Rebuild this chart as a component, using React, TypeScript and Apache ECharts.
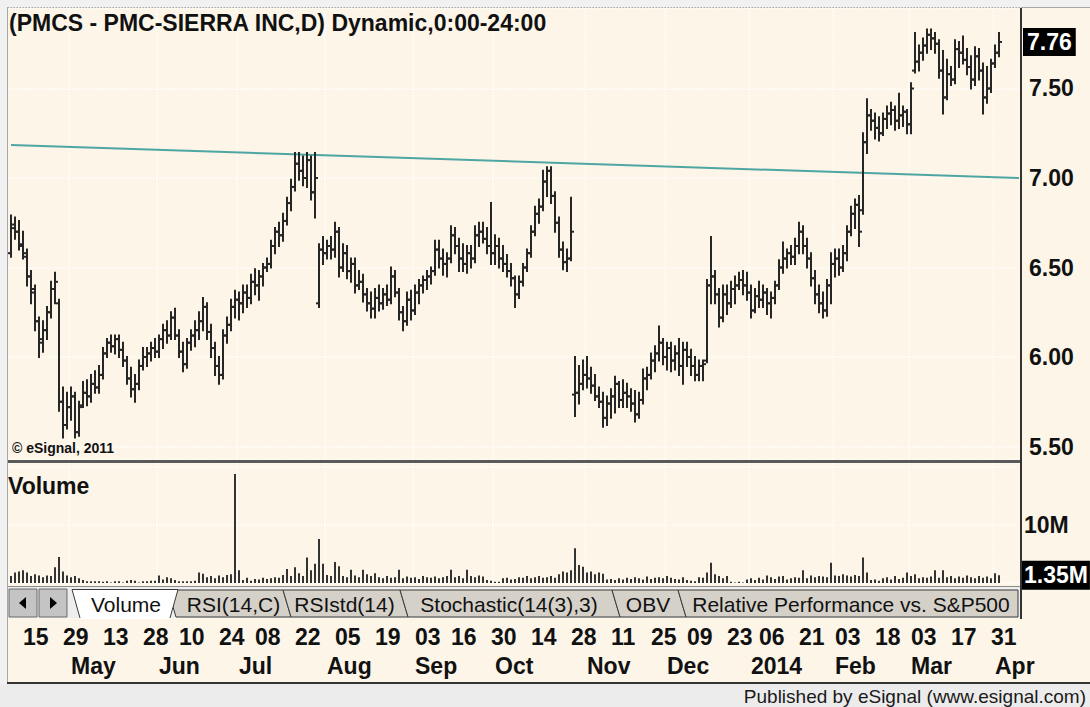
import React, { useEffect, useRef } from "react";
import * as echarts from "echarts";

const FONT = '"Liberation Sans", Arial, sans-serif';
const CREAM = "#fcf5e8";
const INK = "#111111";
const DOTS = "#ffffff";

// ---- calendar (categories) ----
const firstSession = "2013-04-10";
const sessionSlots = 253;
const marketHolidays = [
  "2013-05-27", "2013-07-04", "2013-09-02", "2013-11-28", "2013-12-25",
  "2014-01-01", "2014-01-20", "2014-02-17", "2014-04-18",
];

// ---- tick labels ----
const dayLabelDates = [
  "2013-04-15", "2013-04-29", "2013-05-13", "2013-05-28", "2013-06-10", "2013-06-24",
  "2013-07-08", "2013-07-22", "2013-08-05", "2013-08-19", "2013-09-03", "2013-09-16",
  "2013-09-30", "2013-10-14", "2013-10-28", "2013-11-11", "2013-11-25", "2013-12-09",
  "2013-12-23", "2014-01-06", "2014-01-21", "2014-02-03", "2014-02-18", "2014-03-03",
  "2014-03-17", "2014-03-31",
];
const monthStartDates = [
  "2013-05-01", "2013-06-03", "2013-07-01", "2013-08-01", "2013-09-03", "2013-10-01",
  "2013-11-01", "2013-12-02", "2014-01-02", "2014-02-03", "2014-03-03", "2014-04-01",
];
const monthLabels = ["May", "Jun", "Jul", "Aug", "Sep", "Oct", "Nov", "Dec", "2014", "Feb", "Mar", "Apr"];

// ---- daily bars: [open, high, low, close] ----
const priceBars = [
  [6.58, 6.79, 6.56, 6.74], [6.72, 6.78, 6.66, 6.70], [6.70, 6.76, 6.60, 6.62], [6.63, 6.70, 6.55, 6.58], [6.56, 6.60, 6.40, 6.45],
  [6.45, 6.48, 6.30, 6.38], [6.36, 6.40, 6.15, 6.20], [6.20, 6.22, 6.00, 6.10], [6.08, 6.20, 6.03, 6.15], [6.15, 6.28, 6.10, 6.25],
  [6.25, 6.42, 6.22, 6.38], [6.38, 6.47, 6.30, 6.42], [6.30, 6.32, 5.70, 5.75], [5.75, 5.83, 5.55, 5.62], [5.62, 5.80, 5.60, 5.72],
  [5.72, 5.83, 5.65, 5.78], [5.78, 5.80, 5.55, 5.58], [5.58, 5.75, 5.56, 5.72], [5.73, 5.86, 5.72, 5.80], [5.80, 5.87, 5.73, 5.78],
  [5.78, 5.90, 5.75, 5.85], [5.85, 5.92, 5.80, 5.83], [5.83, 5.95, 5.80, 5.90], [5.90, 6.05, 5.88, 6.02], [6.02, 6.10, 6.00, 6.08],
  [6.08, 6.12, 6.03, 6.06], [6.06, 6.12, 6.02, 6.10], [6.10, 6.12, 6.00, 6.04], [6.04, 6.08, 5.95, 5.98], [5.98, 6.00, 5.85, 5.88],
  [5.88, 5.94, 5.78, 5.82], [5.82, 5.90, 5.75, 5.85], [5.85, 5.98, 5.82, 5.95], [5.95, 6.05, 5.93, 6.00], [6.00, 6.05, 5.95, 6.02],
  [6.02, 6.08, 5.98, 6.05], [6.05, 6.10, 6.00, 6.03], [6.03, 6.12, 6.00, 6.10], [6.10, 6.18, 6.05, 6.15], [6.15, 6.20, 6.08, 6.12],
  [6.12, 6.25, 6.10, 6.22], [6.22, 6.27, 6.10, 6.12], [6.12, 6.15, 6.00, 6.03], [6.03, 6.08, 5.92, 5.96], [5.96, 6.10, 5.94, 6.08],
  [6.08, 6.15, 6.04, 6.12], [6.12, 6.20, 6.06, 6.15], [6.15, 6.25, 6.10, 6.20], [6.20, 6.33, 6.15, 6.28], [6.28, 6.30, 6.10, 6.14],
  [6.14, 6.18, 6.00, 6.05], [6.05, 6.08, 5.90, 5.95], [5.95, 6.00, 5.85, 5.90], [5.90, 6.15, 5.88, 6.12], [6.12, 6.22, 6.08, 6.18],
  [6.18, 6.32, 6.15, 6.28], [6.28, 6.37, 6.22, 6.32], [6.32, 6.36, 6.21, 6.30], [6.30, 6.40, 6.25, 6.36], [6.36, 6.40, 6.28, 6.33],
  [6.33, 6.46, 6.30, 6.42], [6.42, 6.49, 6.35, 6.40], [6.40, 6.48, 6.32, 6.45], [6.45, 6.52, 6.40, 6.50], [6.50, 6.55, 6.48, 6.52],
  [6.52, 6.65, 6.50, 6.62], [6.62, 6.72, 6.58, 6.70], [6.70, 6.75, 6.62, 6.68], [6.68, 6.80, 6.65, 6.76], [6.76, 6.89, 6.74, 6.86],
  [6.86, 6.99, 6.82, 6.95], [6.95, 7.14, 6.93, 7.08], [7.08, 7.14, 6.99, 7.04], [7.04, 7.12, 6.96, 7.00], [7.00, 7.14, 6.95, 7.10],
  [7.10, 7.12, 6.88, 6.92], [6.92, 7.14, 6.78, 7.00], [6.30, 6.63, 6.28, 6.60], [6.60, 6.67, 6.52, 6.58], [6.58, 6.65, 6.55, 6.62],
  [6.62, 6.67, 6.55, 6.60], [6.60, 6.75, 6.56, 6.70], [6.70, 6.72, 6.45, 6.50], [6.50, 6.63, 6.48, 6.58], [6.58, 6.62, 6.44, 6.48],
  [6.48, 6.55, 6.42, 6.52], [6.52, 6.55, 6.36, 6.40], [6.40, 6.48, 6.38, 6.42], [6.42, 6.46, 6.31, 6.35], [6.35, 6.38, 6.26, 6.30],
  [6.30, 6.36, 6.22, 6.27], [6.27, 6.38, 6.22, 6.33], [6.33, 6.40, 6.26, 6.30], [6.30, 6.38, 6.27, 6.35], [6.35, 6.40, 6.29, 6.32],
  [6.32, 6.50, 6.30, 6.45], [6.45, 6.48, 6.34, 6.36], [6.36, 6.38, 6.21, 6.25], [6.25, 6.28, 6.15, 6.20], [6.20, 6.36, 6.18, 6.32],
  [6.32, 6.37, 6.21, 6.26], [6.26, 6.40, 6.24, 6.36], [6.36, 6.43, 6.30, 6.40], [6.40, 6.45, 6.36, 6.43], [6.43, 6.48, 6.38, 6.45],
  [6.45, 6.50, 6.41, 6.48], [6.48, 6.65, 6.46, 6.60], [6.60, 6.65, 6.50, 6.55], [6.55, 6.60, 6.46, 6.52], [6.52, 6.58, 6.45, 6.55],
  [6.55, 6.73, 6.53, 6.68], [6.68, 6.72, 6.58, 6.62], [6.62, 6.66, 6.48, 6.55], [6.55, 6.63, 6.48, 6.52], [6.52, 6.62, 6.47, 6.58],
  [6.58, 6.62, 6.50, 6.55], [6.55, 6.73, 6.53, 6.68], [6.68, 6.75, 6.62, 6.70], [6.70, 6.75, 6.64, 6.66], [6.66, 6.72, 6.58, 6.62],
  [6.62, 6.86, 6.52, 6.58], [6.58, 6.68, 6.52, 6.62], [6.62, 6.66, 6.50, 6.55], [6.55, 6.62, 6.48, 6.52], [6.52, 6.57, 6.45, 6.48],
  [6.48, 6.52, 6.40, 6.44], [6.44, 6.45, 6.28, 6.35], [6.35, 6.45, 6.33, 6.42], [6.42, 6.52, 6.40, 6.50], [6.50, 6.60, 6.48, 6.58],
  [6.58, 6.73, 6.56, 6.70], [6.70, 6.84, 6.68, 6.80], [6.80, 6.88, 6.75, 6.84], [6.84, 7.04, 6.82, 6.98], [6.98, 7.06, 6.90, 7.04],
  [7.04, 7.06, 6.86, 6.90], [6.90, 6.92, 6.70, 6.75], [6.75, 6.78, 6.56, 6.60], [6.60, 6.64, 6.49, 6.53], [6.53, 6.60, 6.48, 6.55],
  [6.55, 6.89, 6.54, 6.70], [5.79, 6.00, 5.67, 5.80], [5.80, 5.95, 5.74, 5.85], [5.85, 5.98, 5.82, 5.90], [5.90, 6.00, 5.83, 5.88],
  [5.88, 5.94, 5.80, 5.84], [5.84, 5.90, 5.76, 5.78], [5.78, 5.83, 5.72, 5.75], [5.75, 5.80, 5.61, 5.66], [5.66, 5.78, 5.62, 5.74],
  [5.74, 5.82, 5.66, 5.78], [5.78, 5.89, 5.69, 5.85], [5.85, 5.86, 5.72, 5.76], [5.76, 5.87, 5.72, 5.80], [5.80, 5.85, 5.72, 5.78],
  [5.78, 5.82, 5.70, 5.74], [5.74, 5.81, 5.64, 5.68], [5.68, 5.80, 5.66, 5.76], [5.76, 5.93, 5.74, 5.88], [5.88, 5.94, 5.82, 5.90],
  [5.90, 6.02, 5.88, 5.98], [5.98, 6.06, 5.92, 6.02], [6.02, 6.17, 5.98, 6.08], [6.08, 6.10, 5.96, 6.00], [6.00, 6.08, 5.93, 6.05],
  [6.05, 6.08, 5.92, 5.98], [5.98, 6.06, 5.93, 6.02], [6.02, 6.10, 5.90, 5.95], [5.95, 6.08, 5.85, 6.04], [6.04, 6.08, 5.95, 6.00],
  [6.00, 6.04, 5.90, 5.95], [5.95, 6.00, 5.87, 5.90], [5.90, 5.98, 5.87, 5.95], [5.95, 5.98, 5.87, 5.96], [5.98, 6.43, 5.97, 6.40],
  [6.40, 6.67, 6.30, 6.45], [6.45, 6.48, 6.30, 6.35], [6.35, 6.38, 6.17, 6.22], [6.22, 6.40, 6.20, 6.35], [6.35, 6.40, 6.24, 6.30],
  [6.30, 6.42, 6.28, 6.38], [6.38, 6.45, 6.30, 6.40], [6.40, 6.47, 6.38, 6.43], [6.43, 6.48, 6.35, 6.40], [6.40, 6.47, 6.32, 6.36],
  [6.36, 6.40, 6.22, 6.26], [6.26, 6.38, 6.25, 6.34], [6.34, 6.42, 6.28, 6.32], [6.32, 6.40, 6.28, 6.36], [6.36, 6.38, 6.24, 6.30],
  [6.30, 6.36, 6.22, 6.33], [6.33, 6.42, 6.30, 6.40], [6.40, 6.54, 6.38, 6.50], [6.50, 6.64, 6.47, 6.55], [6.55, 6.60, 6.50, 6.58],
  [6.58, 6.62, 6.52, 6.56], [6.56, 6.66, 6.52, 6.62], [6.62, 6.75, 6.58, 6.70], [6.70, 6.73, 6.58, 6.62], [6.62, 6.66, 6.50, 6.55],
  [6.55, 6.58, 6.40, 6.44], [6.44, 6.48, 6.30, 6.35], [6.35, 6.40, 6.25, 6.30], [6.30, 6.36, 6.22, 6.26], [6.26, 6.43, 6.23, 6.40],
  [6.40, 6.58, 6.30, 6.52], [6.52, 6.60, 6.45, 6.55], [6.55, 6.60, 6.46, 6.50], [6.50, 6.62, 6.48, 6.58], [6.58, 6.73, 6.54, 6.70],
  [6.70, 6.84, 6.68, 6.80], [6.80, 6.88, 6.72, 6.85], [6.85, 6.90, 6.62, 6.70], [6.82, 7.25, 6.80, 7.20], [7.20, 7.44, 7.14, 7.35],
  [7.35, 7.38, 7.27, 7.32], [7.32, 7.36, 7.22, 7.28], [7.28, 7.34, 7.21, 7.25], [7.25, 7.36, 7.24, 7.33], [7.33, 7.40, 7.28, 7.36],
  [7.36, 7.42, 7.30, 7.38], [7.38, 7.40, 7.27, 7.32], [7.32, 7.47, 7.28, 7.35], [7.35, 7.40, 7.29, 7.37], [7.37, 7.38, 7.25, 7.30],
  [7.30, 7.53, 7.25, 7.50], [7.60, 7.81, 7.59, 7.65], [7.65, 7.74, 7.60, 7.70], [7.70, 7.78, 7.66, 7.74], [7.74, 7.83, 7.70, 7.80],
  [7.80, 7.83, 7.72, 7.78], [7.78, 7.81, 7.70, 7.75], [7.75, 7.77, 7.56, 7.60], [7.60, 7.71, 7.36, 7.45], [7.45, 7.66, 7.44, 7.58],
  [7.58, 7.62, 7.52, 7.55], [7.55, 7.77, 7.53, 7.72], [7.72, 7.76, 7.62, 7.70], [7.70, 7.79, 7.64, 7.66], [7.66, 7.72, 7.58, 7.62],
  [7.62, 7.68, 7.50, 7.55], [7.55, 7.73, 7.52, 7.68], [7.68, 7.72, 7.55, 7.60], [7.60, 7.64, 7.36, 7.45], [7.45, 7.62, 7.42, 7.50],
  [7.50, 7.66, 7.48, 7.64], [7.64, 7.74, 7.62, 7.70], [7.70, 7.81, 7.68, 7.76],
];

// ---- daily volume, millions ----
const volumesM = [
  1.2, 1.8, 2.0, 2.2, 1.8, 1.2, 1.5, 1.3, 1.0, 1.3,
  1.2, 2.7, 4.5, 2.0, 1.3, 1.0, 1.2, 0.8, 0.5, 0.3,
  0.3, 0.3, 0.3, 0.2, 0.3, 0.1, 0.3, 0.3, 0.1, 0.4,
  0.5, 0.4, 0.1, 0.3, 0.3, 0.4, 0.4, 1.3, 0.6, 1.0,
  0.8, 0.5, 0.3, 0.3, 0.3, 0.3, 0.4, 1.8, 1.6, 1.0,
  1.2, 0.8, 1.3, 1.0, 1.4, 1.5, 18.8, 2.2, 0.5, 0.9,
  0.4, 0.7, 0.6, 0.9, 0.7, 0.8, 1.0, 0.9, 1.4, 2.4,
  1.2, 2.7, 1.7, 1.2, 4.4, 2.2, 3.3, 7.6, 3.3, 1.4,
  1.2, 3.6, 2.9, 1.2, 1.0, 2.3, 1.3, 1.0, 2.3, 1.5,
  1.2, 1.7, 1.0, 0.8, 1.2, 0.9, 1.0, 2.3, 0.8, 1.1,
  0.9, 1.0, 0.7, 1.2, 1.0, 0.9, 1.1, 0.8, 1.0, 1.2,
  2.3, 1.0, 1.2, 0.8, 2.3, 1.2, 1.0, 1.3, 1.1, 0.5,
  0.4, 0.2, 0.2, 0.8, 0.9, 0.6, 0.7, 1.0, 0.9, 1.2,
  0.8, 1.0, 1.2, 0.9, 1.0, 1.2, 0.9, 1.5, 2.0, 1.8,
  2.2, 6.0, 3.1, 2.8, 1.8, 2.0, 1.5, 1.8, 1.6, 0.6,
  0.7, 0.5, 0.8, 0.6, 0.9, 0.7, 1.0, 0.8, 0.6, 1.1,
  0.7, 0.9, 1.0, 0.8, 1.2, 0.9, 0.7, 0.6, 1.0, 0.5,
  0.4, 0.3, 1.0, 0.9, 1.8, 3.5, 1.5, 1.2, 0.8, 1.2,
  0.2, 0.1, 0.2, 0.1, 0.6, 0.8, 0.5, 0.9, 0.6, 1.3,
  1.0, 0.7, 1.1, 1.2, 0.6, 0.8, 1.0, 0.9, 2.2, 0.8,
  1.3, 1.0, 1.2, 1.1, 1.0, 3.5, 1.3, 1.2, 1.5, 1.3,
  1.1, 1.4, 1.2, 4.4, 1.8, 0.5, 0.6, 0.4, 0.8, 1.0,
  0.6, 1.2, 0.7, 0.9, 1.8, 1.2, 1.5, 0.8, 1.0, 0.9,
  1.1, 2.2, 0.9, 2.2, 1.0, 1.2, 0.8, 1.1, 0.9, 1.3,
  1.0, 0.8, 1.2, 0.9, 1.1, 0.8, 1.7, 1.35,
];

// ---- study line (start, end) and axis ranges ----
const trendLine = [7.184, 7.0];
const priceRange = [5.4246, 7.9497];
const volumeRange = [0, 20.69];

const tabNames = ["Volume", "RSI(14,C)", "RSIstd(14)", "Stochastic(14(3),3)", "OBV", "Relative Performance vs. S&P500"];
const tabEdges = [72, 178, 283, 400, 612, 678, 1018];

function buildSessions(): string[] {
  const out: string[] = [];
  const [y, m, d] = firstSession.split("-").map(Number);
  const cur = new Date(Date.UTC(y, m - 1, d));
  while (out.length < sessionSlots) {
    const dow = cur.getUTCDay();
    const s = cur.toISOString().slice(0, 10);
    if (dow !== 0 && dow !== 6 && !marketHolidays.includes(s)) out.push(s);
    cur.setUTCDate(cur.getUTCDate() + 1);
  }
  return out;
}

export default function App() {
  const ref = useRef<HTMLDivElement>(null);

  useEffect(() => {
    document.body.style.margin = "0";
    const chart = echarts.init(ref.current as HTMLDivElement, null, { renderer: "svg" });
    const sessions = buildSessions();
    const ohlcData = priceBars.map((b, i) => [i, b[0], b[1], b[2], b[3]]);
    const lastClose = priceBars[priceBars.length - 1][3];
    const lastVol = volumesM[volumesM.length - 1];
    const isMonthStart = (_i: number, v: string) => monthStartDates.includes(v);
    const isDayLabel = (_i: number, v: string) => dayLabelDates.includes(v);

    const labelBase = { fontFamily: FONT, fontSize: 23, fontWeight: "bold", color: INK };
    const hiddenLine = { color: "rgba(0,0,0,0)", width: 0 };

    const graphics: any[] = [];
    // frame strips
    graphics.push({ type: "rect", shape: { x: 0, y: 0, width: 1090, height: 7 }, style: { fill: "#f1f1f1" }, silent: true });
    graphics.push({ type: "rect", shape: { x: 0, y: 0, width: 7, height: 684 }, style: { fill: "#f1f1f1" }, silent: true });
    graphics.push({ type: "line", shape: { x1: 7, y1: 7.5, x2: 1090, y2: 7.5 }, style: { stroke: "#a8a8a8", lineWidth: 1 }, silent: true });
    graphics.push({ type: "line", shape: { x1: 7.5, y1: 7, x2: 7.5, y2: 684 }, style: { stroke: "#a8a8a8", lineWidth: 1 }, silent: true });
    // panel separator
    graphics.push({ type: "rect", shape: { x: 8, y: 460, width: 1013, height: 3 }, style: { fill: "#5a5a5a" }, silent: true, z: 5 });
    // bottom of volume panel
    graphics.push({ type: "line", shape: { x1: 8, y1: 586.5, x2: 1021, y2: 586.5 }, style: { stroke: "#8a8a8a", lineWidth: 1 }, silent: true });
    // tab row background
    graphics.push({ type: "rect", shape: { x: 8, y: 587, width: 1013, height: 31 }, style: { fill: "#eeeeee" }, silent: true });
    // scroll buttons
    graphics.push({ type: "rect", shape: { x: 9, y: 589, width: 28, height: 28 }, style: { fill: "#c4c4c4", stroke: "#6a6a6a", lineWidth: 1 }, silent: true });
    graphics.push({ type: "rect", shape: { x: 39, y: 589, width: 28, height: 28 }, style: { fill: "#c4c4c4", stroke: "#6a6a6a", lineWidth: 1 }, silent: true });
    graphics.push({ type: "polygon", shape: { points: [[19, 603], [26, 597], [26, 609]] }, style: { fill: "#000" }, silent: true });
    graphics.push({ type: "polygon", shape: { points: [[50, 597], [57, 603], [50, 609]] }, style: { fill: "#000" }, silent: true });
    // inactive tabs
    for (let j = 1; j < tabNames.length; j++) {
      const L = j === 1 ? 168 : tabEdges[j];
      const R = tabEdges[j + 1];
      const last = j === tabNames.length - 1;
      graphics.push({
        type: "polygon",
        shape: { points: [[L, 590], [R, 590], [last ? R : R + 8, 617], [L + 8, 617]] },
        style: { fill: "#d5d1c9", stroke: "#3a3a3a", lineWidth: 1 },
        silent: true,
      });
      graphics.push({
        type: "text",
        style: { text: tabNames[j], x: (tabEdges[j] + R) / 2 + 3, y: 604, fill: INK, font: `21px ${FONT}`, textAlign: "center", textVerticalAlign: "middle" },
        silent: true,
      });
    }
    // active tab
    graphics.push({ type: "polygon", shape: { points: [[72, 589], [178, 589], [170, 619], [80, 619]] }, style: { fill: "#ffffff" }, silent: true });
    graphics.push({ type: "polyline", shape: { points: [[80, 618], [72, 589.5], [178, 589.5], [170, 618]] }, style: { stroke: "#3a3a3a", lineWidth: 1, fill: "none" }, silent: true });
    graphics.push({
      type: "text",
      style: { text: tabNames[0], x: 126, y: 604, fill: INK, font: `21px ${FONT}`, textAlign: "center", textVerticalAlign: "middle" },
      silent: true,
    });
    // right axis line
    graphics.push({ type: "line", shape: { x1: 1021, y1: 8, x2: 1021, y2: 619 }, style: { stroke: "#333333", lineWidth: 2 }, silent: true, z: 6 });
    // bottom rule + footer
    graphics.push({ type: "rect", shape: { x: 7, y: 682, width: 1083, height: 2 }, style: { fill: "#333333" }, silent: true });
    graphics.push({ type: "rect", shape: { x: 0, y: 684, width: 1090, height: 23 }, style: { fill: "#ececec" }, silent: true });
    graphics.push({
      type: "text",
      style: { text: "Published by eSignal (www.esignal.com)", x: 1086, y: 696, fill: "#1a1a1a", font: `19px ${FONT}`, textAlign: "right", textVerticalAlign: "middle" },
      silent: true,
    });
    // titles
    graphics.push({
      type: "text", z: 100,
      style: { text: "(PMCS - PMC-SIERRA INC,D) Dynamic,0:00-24:00", x: 9, y: 23, fill: INK, font: `bold 23px ${FONT}`, textAlign: "left", textVerticalAlign: "middle" },
      silent: true,
    });
    graphics.push({
      type: "text", z: 100,
      style: { text: "Volume", x: 8, y: 486, fill: INK, font: `bold 23px ${FONT}`, textAlign: "left", textVerticalAlign: "middle" },
      silent: true,
    });
    graphics.push({
      type: "text", z: 100,
      style: { text: "© eSignal, 2011", x: 12, y: 448, fill: INK, font: `bold 14px ${FONT}`, textAlign: "left", textVerticalAlign: "middle" },
      silent: true,
    });

    const option: any = {
      animation: false,
      backgroundColor: CREAM,
      graphic: graphics,
      grid: [
        { left: 9, top: 8, width: 1012, height: 452 },
        { left: 9, top: 463, width: 1012, height: 120 },
      ],
      xAxis: [
        {
          type: "category", gridIndex: 0, data: sessions, boundaryGap: true,
          axisLine: { show: false }, axisTick: { show: false }, axisLabel: { show: false },
          splitLine: { show: true, interval: isMonthStart, lineStyle: { color: DOTS, type: "dotted", width: 1.5 } },
        },
        {
          type: "category", gridIndex: 1, data: sessions, boundaryGap: true, position: "bottom",
          axisLine: { show: false }, axisTick: { show: false },
          axisLabel: { ...labelBase, interval: isDayLabel, formatter: (v: string) => v.slice(8), align: "left", margin: 42 },
          splitLine: { show: true, interval: isMonthStart, lineStyle: { color: DOTS, type: "dotted", width: 1.5 } },
        },
        {
          type: "category", gridIndex: 1, data: sessions, boundaryGap: true, position: "bottom", offset: 0,
          axisLine: { show: false }, axisTick: { show: false },
          axisLabel: {
            ...labelBase, interval: isMonthStart, align: "left", margin: 71,
            formatter: (v: string) => monthLabels[monthStartDates.indexOf(v)] || "",
          },
          splitLine: { show: false },
        },
      ],
      yAxis: [
        {
          type: "value", gridIndex: 0, position: "right", min: priceRange[0], max: priceRange[1], splitNumber: 5,
          axisLine: { show: false }, axisTick: { show: false },
          axisLabel: { ...labelBase, margin: 8, showMinLabel: false, showMaxLabel: false, formatter: (v: number) => v.toFixed(2) },
          splitLine: { show: true, lineStyle: { color: DOTS, type: "dotted", width: 1.5 } },
        },
        {
          type: "value", gridIndex: 1, position: "right", min: volumeRange[0], max: volumeRange[1], interval: 10,
          axisLine: { show: false }, axisTick: { show: false },
          axisLabel: { ...labelBase, margin: 3, formatter: (v: number) => (v === 10 ? "10M" : "") },
          splitLine: { show: true, lineStyle: { color: DOTS, type: "dotted", width: 1.5 } },
        },
      ],
      series: [
        {
          type: "line", name: "study", xAxisIndex: 0, yAxisIndex: 0, z: 1, clip: false,
          data: [[0, trendLine[0]], [sessionSlots - 1, trendLine[1]]],
          symbol: "none", lineStyle: { color: "#4ea6a2", width: 2 },
          markLine: {
            silent: true, symbol: "none", animation: false,
            lineStyle: hiddenLine,
            label: {
              show: true, position: "end", distance: 2, formatter: lastClose.toFixed(2),
              backgroundColor: "#000000", color: "#ffffff", fontFamily: FONT, fontSize: 23, fontWeight: "bold",
              padding: [3, 4, 2, 4],
            },
            data: [{ yAxis: lastClose }],
          },
        },
        {
          type: "custom", name: "PMCS", xAxisIndex: 0, yAxisIndex: 0, z: 3,
          data: ohlcData,
          encode: { x: 0, y: [1, 2, 3, 4] },
          renderItem: (_params: any, api: any) => {
            const idx = api.value(0);
            const o = api.coord([idx, api.value(1)]);
            const h = api.coord([idx, api.value(2)]);
            const l = api.coord([idx, api.value(3)]);
            const c = api.coord([idx, api.value(4)]);
            const x = h[0];
            const st = { stroke: "#262626", lineWidth: 2 };
            return {
              type: "group",
              children: [
                { type: "line", shape: { x1: x, y1: h[1] - 1, x2: x, y2: l[1] + 1 }, style: st },
                { type: "line", shape: { x1: x - 3, y1: o[1], x2: x, y2: o[1] }, style: st },
                { type: "line", shape: { x1: x, y1: c[1], x2: x + 3, y2: c[1] }, style: st },
              ],
            };
          },
        },
        {
          type: "bar", name: "Volume", xAxisIndex: 1, yAxisIndex: 1, clip: false,
          data: volumesM, barWidth: 2, itemStyle: { color: "#333333" },
          markLine: {
            silent: true, symbol: "none", animation: false,
            lineStyle: hiddenLine,
            label: {
              show: true, position: "end", distance: 1, formatter: lastVol.toFixed(2) + "M",
              backgroundColor: "#000000", color: "#ffffff", fontFamily: FONT, fontSize: 23, fontWeight: "bold",
              padding: [3, 2, 3, 2],
            },
            data: [{ yAxis: lastVol }],
          },
        },
      ],
    };
    chart.setOption(option);
    return () => chart.dispose();
  }, []);

  return <div ref={ref} style={{ width: 1090, height: 707 }} />;
}
